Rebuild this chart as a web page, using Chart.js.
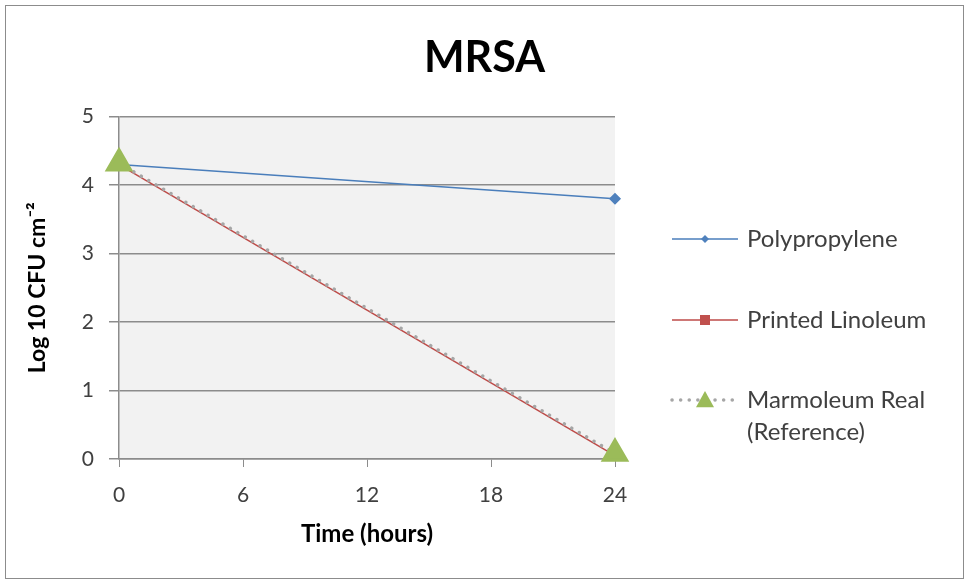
<!DOCTYPE html>
<html lang="en">
<head>
    <meta charset="UTF-8">
    <title>MRSA</title>
    <script src="https://cdn.jsdelivr.net/npm/chart.js"></script>
    <style>
        body { margin: 0; background: #ffffff; }
        #wrap { width: 969px; height: 584px; }
    </style>
</head>
<body>
    <div id="wrap">
        <canvas id="mrsaChart" width="969" height="584"></canvas>
    </div>

    <script>
        // data
        const timeHours = [0, 24];
        const xTicks = [0, 6, 12, 18, 24];
        const yTicks = [0, 1, 2, 3, 4, 5];
        const seriesNames = ["Polypropylene", "Printed Linoleum", "Marmoleum Real (Reference)"];
        const polypropylene = [4.3, 3.8];
        const printedLinoleum = [4.3, 0.05];
        const marmoleumReal = [4.32, 0.08];

        const FONT = "Lato, 'Open Sans', sans-serif";
        const TEXT = "#404040";

        function toPoints(values) {
            return timeHours.map((t, i) => ({ x: t, y: values[i] }));
        }

        // grey plot area + outer frame
        const frame = {
            id: "frame",
            beforeDraw(chart) {
                const { ctx, chartArea: a } = chart;
                ctx.save();
                ctx.fillStyle = "#f2f2f2";
                ctx.fillRect(a.left, a.top, a.right - a.left, a.bottom - a.top);
                ctx.restore();
            },
            afterDraw(chart) {
                const ctx = chart.ctx;
                ctx.save();
                ctx.strokeStyle = "#8c8c8c";
                ctx.lineWidth = 1;
                ctx.strokeRect(5.5, 5.5, 958, 573);
                ctx.restore();
            }
        };

        function drawMarker(ctx, style, x, y, r, color) {
            ctx.fillStyle = color;
            ctx.beginPath();
            if (style === "rectRot") {
                ctx.moveTo(x, y - r); ctx.lineTo(x + r, y); ctx.lineTo(x, y + r); ctx.lineTo(x - r, y);
            } else if (style === "rect") {
                ctx.rect(x - r, y - r, 2 * r, 2 * r);
            } else {
                ctx.moveTo(x, y - r); ctx.lineTo(x + r, y + r * 0.8); ctx.lineTo(x - r, y + r * 0.8);
            }
            ctx.closePath();
            ctx.fill();
        }

        // legend drawn on the right, Excel style (line + marker sample)
        const sideLegend = {
            id: "sideLegend",
            afterDraw(chart) {
                const ctx = chart.ctx;
                const rows = [239, 320, 400];
                const markerSize = [4, 5, 9];
                ctx.save();
                chart.data.datasets.forEach((ds, i) => {
                    const y = rows[i];
                    ctx.strokeStyle = ds.borderColor;
                    ctx.lineWidth = ds.borderWidth;
                    ctx.lineCap = ds.borderCapStyle || "butt";
                    ctx.setLineDash(ds.borderDash || []);
                    ctx.beginPath();
                    ctx.moveTo(672, y);
                    ctx.lineTo(738, y);
                    ctx.stroke();
                    ctx.setLineDash([]);
                    drawMarker(ctx, ds.pointStyle, 705, y, markerSize[i], ds.pointBackgroundColor);

                    ctx.fillStyle = TEXT;
                    ctx.font = "24px " + FONT;
                    ctx.textBaseline = "middle";
                    ctx.textAlign = "left";
                    const lines = i === 2 ? ["Marmoleum Real", "(Reference)"] : [ds.label];
                    lines.forEach((t, k) => ctx.fillText(t, 747, y + k * 32));
                });
                ctx.restore();
            }
        };

        new Chart(document.getElementById("mrsaChart"), {
            type: "line",
            data: {
                datasets: [
                    {
                        label: seriesNames[0],
                        data: toPoints(polypropylene),
                        borderColor: "#4a7ebb",
                        borderWidth: 1.5,
                        pointStyle: "rectRot",
                        pointRadius: 5,
                        pointBackgroundColor: "#4f81bd",
                        pointBorderColor: "#4f81bd",
                        clip: false,
                        order: 2
                    },
                    {
                        label: seriesNames[1],
                        data: toPoints(printedLinoleum),
                        borderColor: "#be4b48",
                        borderWidth: 1.5,
                        pointStyle: "rect",
                        pointRadius: 5,
                        pointBackgroundColor: "#c0504d",
                        pointBorderColor: "#c0504d",
                        clip: false,
                        order: 1
                    },
                    {
                        label: seriesNames[2],
                        data: toPoints(marmoleumReal),
                        borderColor: "#a6a6a6",
                        borderWidth: 3.5,
                        borderDash: [0.1, 8.5],
                        borderCapStyle: "round",
                        pointStyle: "triangle",
                        pointRadius: 13,
                        pointBackgroundColor: "#9bbb59",
                        pointBorderColor: "#9bbb59",
                        clip: false,
                        order: 0
                    }
                ]
            },
            options: {
                responsive: false,
                animation: false,
                layout: { padding: 0 },
                plugins: {
                    legend: { display: false },
                    tooltip: { enabled: false },
                    title: {
                        display: true,
                        text: "MRSA",
                        color: "#000000",
                        font: { family: FONT, size: 43, weight: "bold", lineHeight: 1.2 },
                        padding: { top: 32, bottom: 33 }
                    }
                },
                scales: {
                    x: {
                        type: "linear",
                        min: 0,
                        max: 24,
                        afterFit(scale) { scale.height = 125; },
                        afterBuildTicks(scale) { scale.ticks = xTicks.map(v => ({ value: v })); },
                        grid: { drawOnChartArea: false, drawTicks: true, tickLength: 8, color: "#8c8c8c" },
                        border: { display: true, color: "#8c8c8c", width: 1.5 },
                        ticks: { color: TEXT, padding: 16, font: { family: FONT, size: 21 }, maxRotation: 0 },
                        title: {
                            display: true,
                            text: "Time (hours)",
                            color: "#000000",
                            font: { family: FONT, size: 24, weight: "bold", lineHeight: 1.2 },
                            padding: { top: 0, bottom: 35 }
                        }
                    },
                    y: {
                        min: 0,
                        max: 5,
                        afterFit(scale) { scale.width = 119; },
                        afterBuildTicks(scale) { scale.ticks = yTicks.map(v => ({ value: v })); },
                        grid: { color: "#8c8c8c", lineWidth: 1.5, tickLength: 10 },
                        border: { display: true, color: "#8c8c8c", width: 1.5 },
                        ticks: { color: TEXT, padding: 15, font: { family: FONT, size: 21 } },
                        title: {
                            display: true,
                            text: "Log 10 CFU cm\u207B\u00B2",
                            color: "#000000",
                            font: { family: FONT, size: 23, weight: "bold", lineHeight: 1.2 },
                            padding: { top: 24, bottom: 0 }
                        }
                    },
                    // empty right-hand box that leaves room for the legend
                    legendRoom: {
                        type: "linear",
                        position: "right",
                        afterFit(scale) { scale.width = 354; },
                        grid: { display: false },
                        border: { display: false },
                        ticks: { display: false }
                    }
                }
            },
            plugins: [frame, sideLegend]
        });
    </script>
</body>
</html>
